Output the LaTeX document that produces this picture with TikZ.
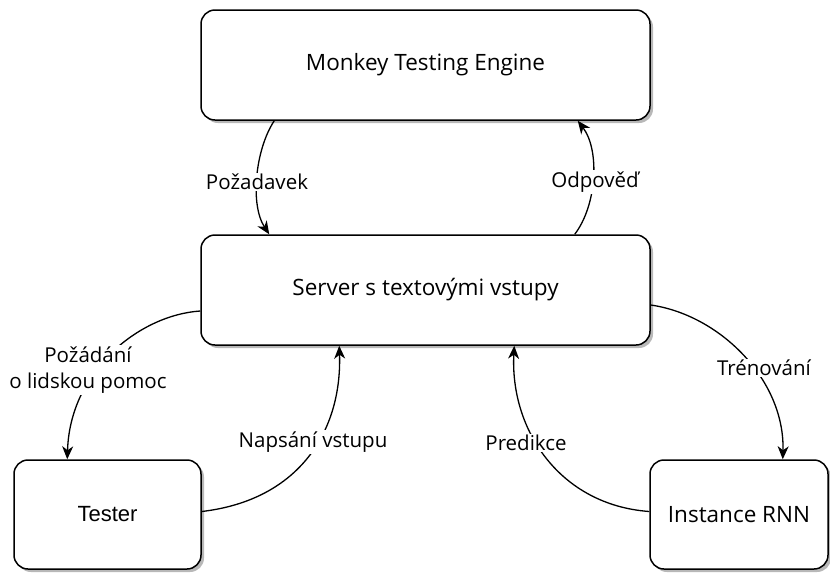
\documentclass[tikz,border=0pt]{standalone}
\usepackage{fontspec}
\setmainfont{Open Sans}
\newfontfamily\arialfont{Liberation Sans}
\usetikzlibrary{arrows.meta,shadows}

\tikzset{
  box/.style={draw, line width=1.5pt, rounded corners=14pt, fill=white,
    drop shadow={shadow xshift=3pt, shadow yshift=-3pt, fill=black!28, opacity=1},
    inner sep=0pt, font=\fontsize{22.5}{27}\selectfont},
  link/.style={line width=1.3pt, -{Stealth[length=13pt, width=11pt, inset=4pt]}},
  lbl/.style={fill=white, inner sep=1.5pt, align=center,
    font=\fontsize{20.5}{26}\selectfont}
}

\begin{document}
\begin{tikzpicture}[x=1pt, y=-1pt]
  \useasboundingbox (0,0) rectangle (830,574);

  % boxes
  \node[box, minimum width=449pt, minimum height=110pt] (eng) at (425.5,65) {Monkey Testing Engine};
  \node[box, minimum width=449pt, minimum height=110pt] (srv) at (425.5,290) {Server s textovými vstupy};
  \node[box, minimum width=187pt, minimum height=109pt, font=\arialfont\fontsize{22}{26}\selectfont] (tst) at (107.5,514.5) {Tester};
  \node[box, minimum width=178pt, minimum height=109pt] (rnn) at (739,514.5) {Instance RNN};

  % curved connectors
  \draw[link] ([xshift=74pt]eng.south west) .. controls (255,150) and (250,205) .. ([xshift=69pt]srv.north west);
  \draw[link] ([xshift=-76pt]srv.north east) .. controls (597,205) and (600,150) .. ([xshift=-73pt]eng.south east);
  \draw[link] ([yshift=-21pt]srv.west) .. controls (140,315) and (70,370) .. ([xshift=54pt]tst.north west);
  \draw[link] ([yshift=3pt]tst.east) .. controls (300,500) and (342,430) .. ([xshift=139pt]srv.south west);
  \draw[link] ([yshift=-15pt]srv.east) .. controls (720,315) and (785,380) .. ([xshift=-46pt]rnn.north east);
  \draw[link] ([yshift=3pt]rnn.west) .. controls (560,505) and (510,430) .. ([xshift=314pt]srv.south west);

  % connector labels
  \node[lbl] (l1) at (257,182) {Požadavek};
  \node[lbl] (l2) at (595,182) {Odpověď};
  \node[lbl] (l3) at (88,370) {Požádání\\o lidskou pomoc};
  \node[lbl] (l4) at (313,442) {Napsání vstupu};
  \node[lbl] (l5) at (764,368) {Trénování};
  \node[lbl] (l6) at (526,443) {Predikce};
\end{tikzpicture}
\end{document}
